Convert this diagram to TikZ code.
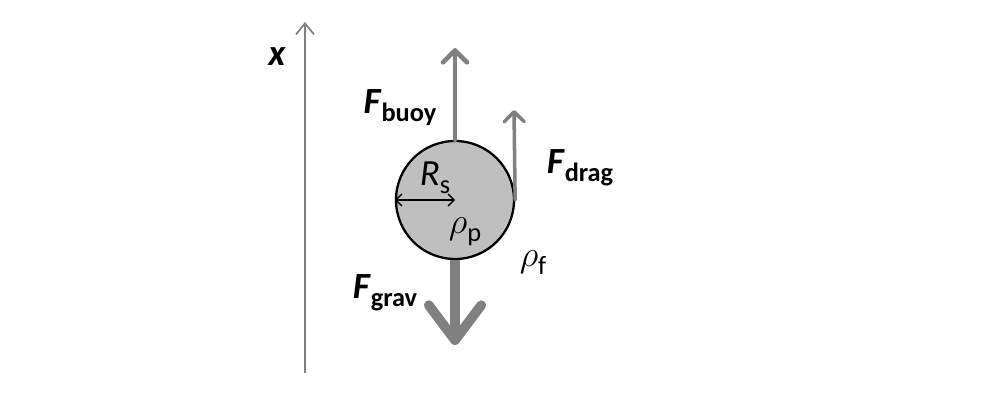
\documentclass[tikz,border=0pt]{standalone}
\usepackage{fontspec}
\setmainfont{Carlito}
\usetikzlibrary{arrows.meta,positioning}
\definecolor{forcegray}{RGB}{128,128,128}
\tikzset{force/.style={forcegray,line cap=round},
         lbl/.style={inner sep=0pt,font=\fontsize{21}{25}\selectfont},
         sphere/.style={circle,draw=black,line width=1.3pt,fill=black!25,minimum size=2.36cm,inner sep=0pt},
}
\newcommand{\subt}[1]{\raisebox{-0.45ex}{\fontsize{15}{17}\selectfont #1}}
\begin{document}
\begin{tikzpicture}
\useasboundingbox (0,0) rectangle (20,8.14);
% axis
\coordinate (x0) at (6.1,0.68);
\coordinate (x1) at (6.1,7.7);
\draw[forcegray,line width=1pt,-{Straight Barb[length=2.2mm,width=3.6mm]}] (x0) -- (x1);
\node[lbl] (xl) at (5.54,7.0) {\textbf{\textit{x}}};
% particle
\node[sphere] (p) at (9.1,4.14) {};
\coordinate (buoytip) at (9.1,7.18);
\coordinate (dragtip) at (10.28,5.94);
\coordinate (gravtip) at (9.1,1.24);
\draw[force,line width=2.6pt,-{Straight Barb[round,length=2.4mm,width=4.8mm]}] (p.north) -- (buoytip);
\draw[force,line width=2pt,-{Straight Barb[round,length=2mm,width=4mm]}] (p.east) -- (dragtip);
\draw[force,line width=5.5pt,line cap=butt,-{Straight Barb[round,length=7mm,width=10.5mm]}] (p.south) -- (gravtip);
\draw[black,line width=0.8pt,{Straight Barb[length=1.2mm,width=2.4mm]}-{Straight Barb[length=1.2mm,width=2.4mm]}] (p.west) -- (p.center);
% labels
\node[lbl] (fb) at (8.0,5.98) {\textbf{\textit{F}}\subt{\textbf{buoy}}};
\node[lbl] (fd) at (11.6,4.78) {\textbf{\textit{F}}\subt{\textbf{drag}}};
\node[lbl] (fg) at (7.7,2.28) {\textbf{\textit{F}}\subt{\textbf{grav}}};
\node[lbl] (rs) at (8.7,4.58) {\textit{R}\subt{s}};
\node[lbl] (rp) at (9.3,3.5) {$\rho$\subt{p}};
\node[lbl] (rf) at (10.66,2.88) {$\rho$\subt{f}};
\end{tikzpicture}
\end{document}
